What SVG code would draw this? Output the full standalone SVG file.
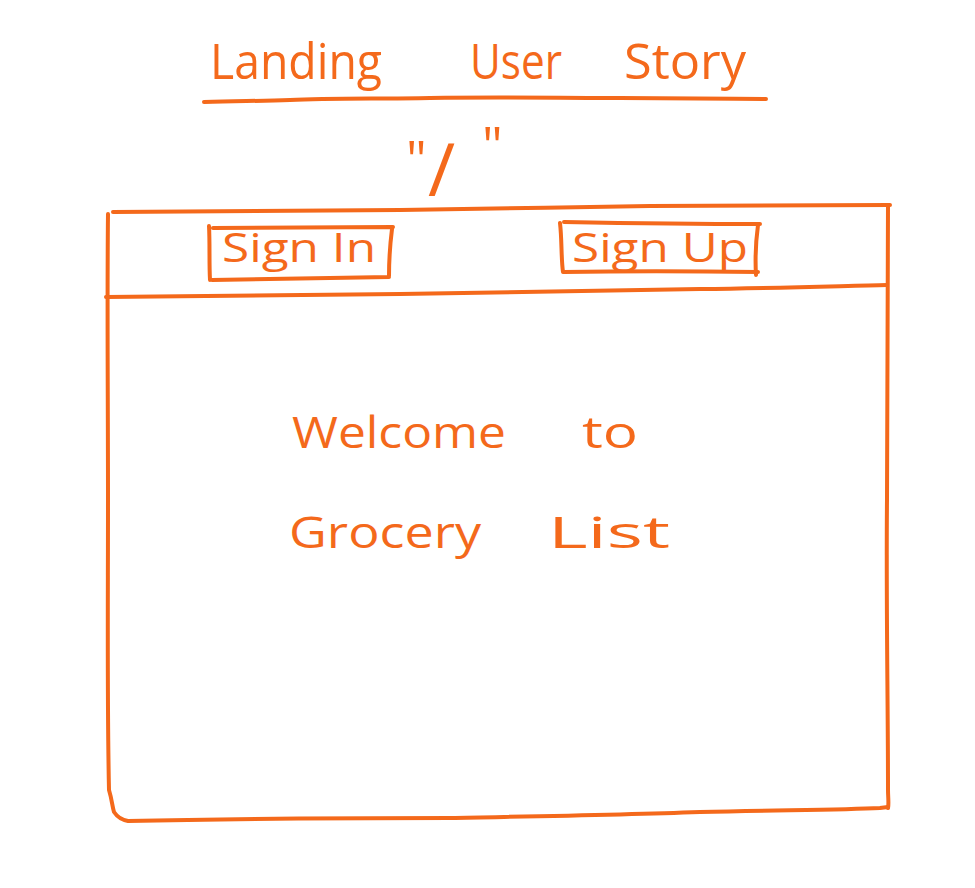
<svg xmlns="http://www.w3.org/2000/svg" width="975" height="888" viewBox="0 0 975 888">
  <style>
    .ink { fill: none; stroke: #F4691B; stroke-width: 4; stroke-linecap: round; stroke-linejoin: round; }
    .hand { fill: #F4691B; font-family: "Open Sans", "Liberation Sans", sans-serif; font-weight: 400; }
    .title { font-size: 50px; }
    .btn { font-size: 40px; }
    .body { font-size: 44px; }
  </style>
  <rect width="975" height="888" fill="#FFFFFF"/>

  <!-- heading with underline -->
  <g id="title">
    <text class="hand title" x="210" y="79" textLength="172" lengthAdjust="spacingAndGlyphs">Landing</text>
    <text class="hand title" x="470" y="79" textLength="92" lengthAdjust="spacingAndGlyphs">User</text>
    <text class="hand title" x="624" y="79" textLength="122" lengthAdjust="spacingAndGlyphs">Story</text>
    <path class="ink" d="M204,102 C240,101 260,101 290,100 C330,98 380,99 430,98 C500,97 560,98 620,98 C680,98 720,99 766,99"/>
  </g>

  <!-- route label -->
  <g id="route">
    <text class="hand"><tspan font-size="52" x="406" y="178">"</tspan><tspan font-size="74" x="428" y="196">/</tspan><tspan font-size="52" x="482" y="164">"</tspan></text>
  </g>

  <!-- page frame -->
  <g id="page">
    <path class="ink" d="M113,212 C200,211 300,211 400,210 C500,209 560,207 650,206 C750,206 830,205 890,205"/>
    <path class="ink" d="M108,214 C107,300 108,400 108,500 C108,600 107,700 109,790 C112,800 112,805 114,812 C118,818 122,820 128,821 C250,818 350,818 450,818 C550,816 620,815 700,812 C780,810 840,810 880,808 L888,807"/>
    <path class="ink" d="M888,205 C887,300 888,400 887,500 C886,600 888,700 888,790 C888,798 889,803 888,808"/>
  </g>

  <!-- navigation bar -->
  <g id="header">
    <path class="ink" d="M106,297 C200,296 300,295 400,294 C500,292 600,290 700,289 C780,288 840,286 887,285"/>
  </g>

  <g id="sign-in">
    <path class="ink" d="M213,228 C260,228 320,227 393,227 M209,226 C210,245 209,262 210,280 M212,280 C270,279 330,278 389,277 M392,229 C390,245 389,260 389,276"/>
    <text class="hand btn" x="222" y="262" textLength="154" lengthAdjust="spacingAndGlyphs">Sign In</text>
  </g>

  <g id="sign-up">
    <path class="ink" d="M564,222 C620,223 690,224 760,224 M560,223 C562,240 561,258 563,272 M564,272 C620,271 690,271 758,272 M758,225 C756,240 755,258 756,275"/>
    <text class="hand btn" x="572" y="262" textLength="176" lengthAdjust="spacingAndGlyphs">Sign Up</text>
  </g>

  <!-- welcome message -->
  <g id="welcome">
    <text class="hand body" x="292" y="448" textLength="214" lengthAdjust="spacingAndGlyphs">Welcome</text>
    <text class="hand body" x="582" y="448" textLength="56" lengthAdjust="spacingAndGlyphs">to</text>
    <text class="hand body" x="289" y="548" textLength="192" lengthAdjust="spacingAndGlyphs">Grocery</text>
    <text class="hand body" x="548" y="548" textLength="122" lengthAdjust="spacingAndGlyphs">List</text>
  </g>
</svg>
